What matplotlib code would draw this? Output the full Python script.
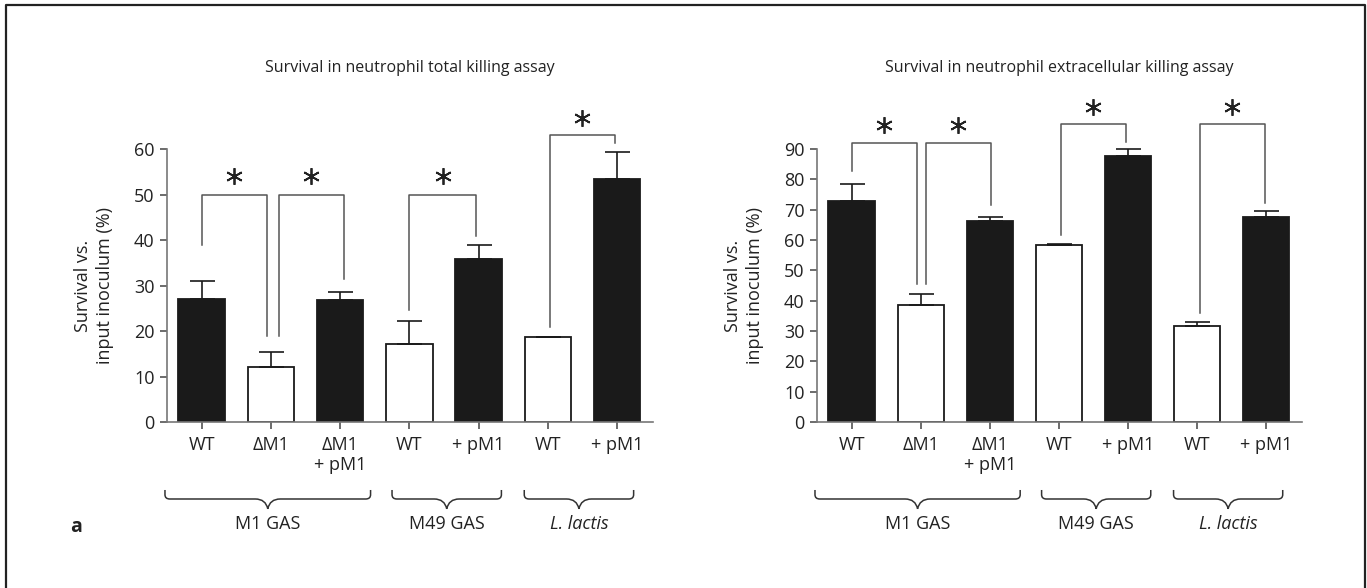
import matplotlib
matplotlib.use("Agg")
import matplotlib.pyplot as plt
from matplotlib.path import Path
from matplotlib.patches import PathPatch
from matplotlib.lines import Line2D
import matplotlib.transforms as mtransforms

plt.rcParams['font.family'] = ['Open Sans', 'DejaVu Sans']

# --- data ---
strains = ['WT', 'ΔM1', 'ΔM1\n+ pM1', 'WT', '+ pM1', 'WT', '+ pM1']
filled = [True, False, True, False, True, False, True]

total_mean = [27.0, 12.0, 26.8, 17.1, 35.9, 18.6, 53.5]
total_err = [3.9, 3.4, 1.8, 5.1, 2.9, 0.0, 5.8]

extra_mean = [72.7, 38.5, 66.3, 58.2, 87.7, 31.6, 67.6]
extra_err = [5.8, 3.6, 1.3, 0.5, 2.3, 1.3, 1.9]

# significance brackets: (x left, x right, bracket height, left leg end, right leg end, star height)
total_sig = [(0, 0.94, 49.8, 38.8, 18.8, 54.0),
             (1.12, 2.05, 49.8, 18.8, 31.4, 54.0),
             (3.0, 3.96, 49.8, 24.7, 40.8, 54.0),
             (5.03, 5.97, 63.1, 20.9, 61.4, 66.8)]
extra_sig = [(0, 0.95, 92.1, 82.9, 45.5, 97.9),
             (1.07, 2.02, 92.1, 45.5, 71.6, 97.9),
             (3.03, 3.97, 98.1, 61.6, 92.2, 103.9),
             (5.04, 5.98, 98.1, 36.1, 72.3, 103.9)]

groups = ['M1 GAS', 'M49 GAS', 'L. lactis']
group_span = [(-0.53, 2.44), (2.75, 4.33), (4.66, 6.24)]


def draw_brace(ax, x0, x1, label, italic=False):
    # x in data units, y in axes fraction
    trans = mtransforms.blended_transform_factory(ax.transData, ax.transAxes)
    yt, yh, ytip = -0.249, -0.282, -0.318
    rx, ry = 0.07, 0.016
    xm = (x0 + x1) / 2
    w = 0.18
    verts = [(x0, yt), (x0, yh + ry), (x0, yh), (x0 + rx, yh),
             (xm - w, yh), (xm - 0.03, yh), (xm, ytip),
             (xm + 0.03, yh), (xm + w, yh),
             (x1 - rx, yh), (x1, yh), (x1, yh + ry), (x1, yt)]
    codes = [Path.MOVETO, Path.LINETO, Path.CURVE3, Path.CURVE3,
             Path.LINETO, Path.CURVE3, Path.CURVE3,
             Path.CURVE3, Path.CURVE3,
             Path.LINETO, Path.CURVE3, Path.CURVE3, Path.LINETO]
    ax.add_patch(PathPatch(Path(verts, codes), transform=trans, fill=False,
                           edgecolor='#333333', lw=1.1, clip_on=False))
    ax.text(xm, -0.375, label, transform=trans, ha='center', va='center',
            fontsize=13, color='#222222', style='italic' if italic else 'normal')


def draw_panel(ax, means, errs, sig, ymax, title):
    x = list(range(len(means)))
    colors = ['#1a1a1a' if f else 'white' for f in filled]
    ax.bar(x, means, width=0.67, color=colors, edgecolor='#1a1a1a', linewidth=1.3, zorder=2)
    ax.errorbar(x, means, yerr=[[0] * len(errs), errs], fmt='none', ecolor='#1a1a1a',
                elinewidth=1.2, capsize=9, capthick=1.2, zorder=3, clip_on=False)

    for xl, xr, yb, yl, yr, ys in sig:
        ax.plot([xl, xl, xr, xr], [yl, yb, yb, yr], color='#555555', lw=1.1,
                clip_on=False, zorder=1)
        ax.plot((xl + xr) / 2, ys, marker=(6, 2, 0), markersize=12, mew=1.3,
                color='#222222', clip_on=False)

    ax.set_xlim(-0.5, 6.52)
    ax.set_ylim(0, ymax)
    ax.set_yticks(range(0, ymax + 1, 10))
    ax.set_xticks(x)
    ax.set_xticklabels(strains, linespacing=1.15)
    for s in ['top', 'right']:
        ax.spines[s].set_visible(False)
    for s in ['left', 'bottom']:
        ax.spines[s].set_color('#777777')
        ax.spines[s].set_linewidth(1.2)
    ax.tick_params(axis='both', direction='out', length=5, width=1.1, color='#444444',
                   labelsize=13, labelcolor='#222222')
    ax.tick_params(axis='x', pad=5)
    ax.tick_params(axis='y', pad=4)
    ax.set_ylabel('Survival vs.\ninput inoculum (%)', fontsize=13, color='#222222',
                  va='center', linespacing=1.3)
    ax.yaxis.set_label_coords(-0.150, 0.5)
    ax.set_title(title, fontsize=11.5, color='#222222', y=1.25)

    for (x0, x1), g in zip(group_span, groups):
        draw_brace(ax, x0, x1, g, italic=(g == 'L. lactis'))


fig = plt.figure(figsize=(13.67, 5.88), dpi=100)
ax1 = fig.add_axes([0.1222, 0.2823, 0.3555, 0.4643])
ax2 = fig.add_axes([0.5977, 0.2823, 0.3548, 0.4643])

draw_panel(ax1, total_mean, total_err, total_sig, 60,
           'Survival in neutrophil total killing assay')
draw_panel(ax2, extra_mean, extra_err, extra_sig, 90,
           'Survival in neutrophil extracellular killing assay')

fig.text(0.0556, 0.104, 'a', fontsize=14, fontweight='bold', ha='center', va='center',
         color='#222222')

# outer frame (left, top, right)
fig.add_artist(Line2D([0.0042, 0.0042, 0.9985, 0.9985], [0.0, 0.9915, 0.9915, 0.0],
                      transform=fig.transFigure, color='#222222', lw=1.6))

fig.savefig('out.png', dpi=100)
